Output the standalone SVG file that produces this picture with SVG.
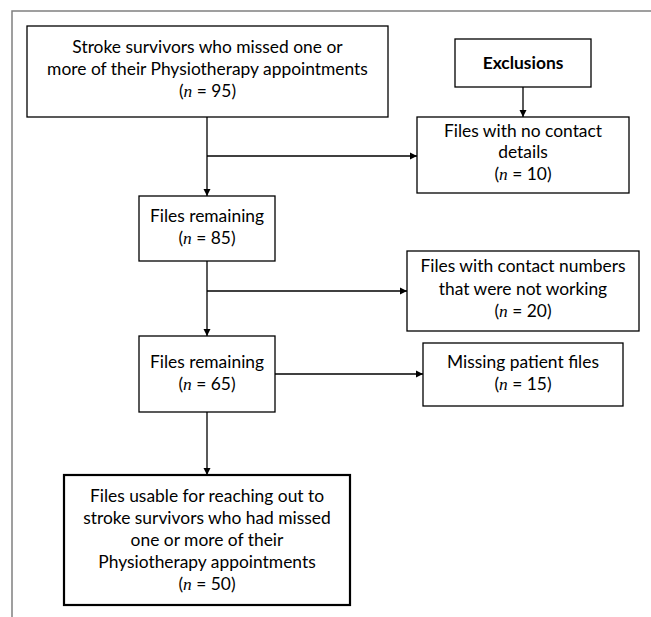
<svg xmlns="http://www.w3.org/2000/svg" width="651" height="617" viewBox="0 0 651 617">
<style>
.box{fill:#fff;stroke:#000;stroke-width:1.3}
.thick{stroke-width:2.2}
.t{font-family:Lato,"Liberation Sans",sans-serif;font-size:17.4px;fill:#000;text-anchor:middle}
.b{font-weight:bold}
.n{font-family:"Liberation Serif",serif;font-style:italic}
.ln{fill:none;stroke:#000;stroke-width:1.3}
</style>
<defs>
<marker id="ah" markerWidth="8" markerHeight="8" refX="7" refY="4" orient="auto" markerUnits="userSpaceOnUse">
<path d="M0,0.5 L7,4 L0,7.5 Z" fill="#000"/>
</marker>
</defs>
<rect width="651" height="617" fill="#fff"/>
<path d="M12,617 V11 H651" fill="none" stroke="#808080" stroke-width="1.5"/>
<g id="connectors">
<path class="ln" d="M207,117 V196" marker-end="url(#ah)"/>
<path class="ln" d="M207,156 H417" marker-end="url(#ah)"/>
<path class="ln" d="M523,87 V117" marker-end="url(#ah)"/>
<path class="ln" d="M207,261 V336" marker-end="url(#ah)"/>
<path class="ln" d="M207,291 H407" marker-end="url(#ah)"/>
<path class="ln" d="M275,374 H423" marker-end="url(#ah)"/>
<path class="ln" d="M207,412 V475" marker-end="url(#ah)"/>
</g>
<g id="start">
<rect class="box" x="27" y="26" width="361" height="91"/>
<text class="t" x="207.5" y="53">Stroke survivors who missed one or</text>
<text class="t" x="207.5" y="75">more of their Physiotherapy appointments</text>
<text class="t" x="207.5" y="97">(<tspan class="n">n</tspan> = 95)</text>
</g>
<g id="exclusions">
<rect class="box" x="455" y="39" width="136" height="48"/>
<text class="t b" x="523" y="69">Exclusions</text>
</g>
<g id="nocontact">
<rect class="box" x="417" y="117" width="212" height="76"/>
<text class="t" x="523" y="137">Files with no contact</text>
<text class="t" x="523" y="158">details</text>
<text class="t" x="523" y="180">(<tspan class="n">n</tspan> = 10)</text>
</g>
<g id="remaining85">
<rect class="box" x="139" y="196" width="136" height="65"/>
<text class="t" x="207" y="222">Files remaining</text>
<text class="t" x="207" y="244">(<tspan class="n">n</tspan> = 85)</text>
</g>
<g id="notworking">
<rect class="box" x="407" y="251" width="232" height="80"/>
<text class="t" x="523" y="272">Files with contact numbers</text>
<text class="t" x="523" y="295">that were not working</text>
<text class="t" x="523" y="317">(<tspan class="n">n</tspan> = 20)</text>
</g>
<g id="remaining65">
<rect class="box" x="139" y="336" width="136" height="76"/>
<text class="t" x="207" y="368">Files remaining</text>
<text class="t" x="207" y="390">(<tspan class="n">n</tspan> = 65)</text>
</g>
<g id="missing">
<rect class="box" x="423" y="343" width="200" height="63"/>
<text class="t" x="523" y="368">Missing patient files</text>
<text class="t" x="523" y="390">(<tspan class="n">n</tspan> = 15)</text>
</g>
<g id="usable">
<rect class="box thick" x="64" y="475" width="286" height="130"/>
<text class="t" x="207" y="502">Files usable for reaching out to</text>
<text class="t" x="207" y="524">stroke survivors who had missed</text>
<text class="t" x="207" y="546">one or more of their</text>
<text class="t" x="207" y="568">Physiotherapy appointments</text>
<text class="t" x="207" y="590">(<tspan class="n">n</tspan> = 50)</text>
</g>
</svg>
